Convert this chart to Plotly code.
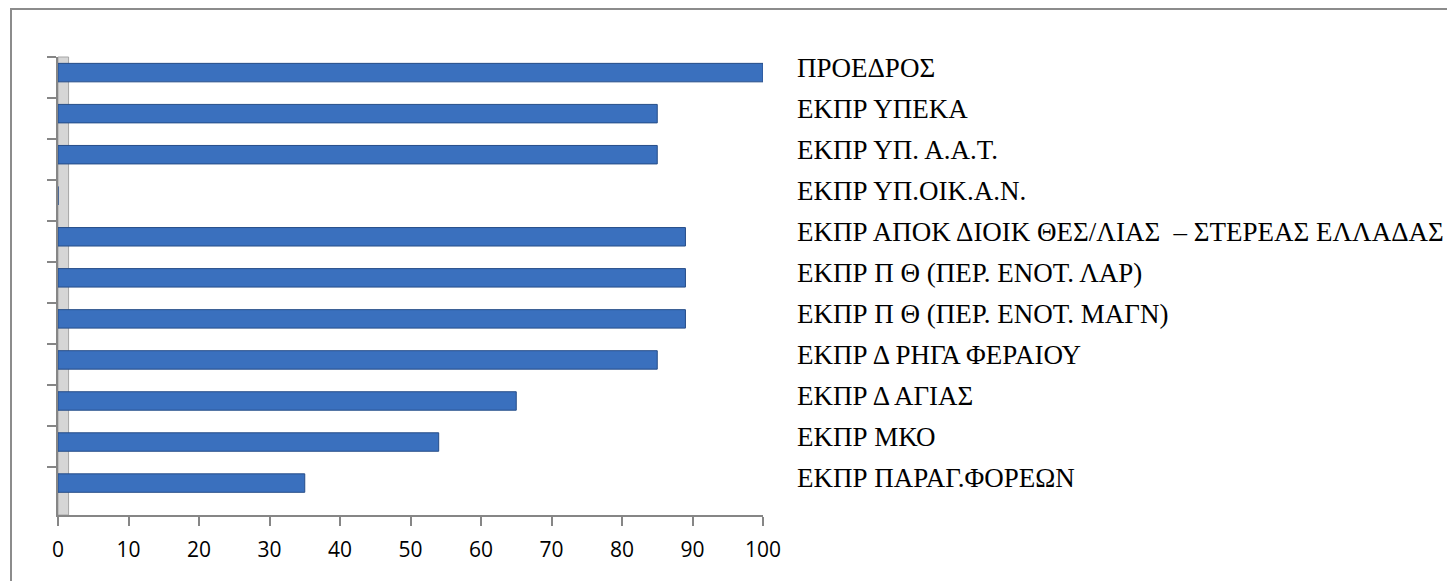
import plotly.graph_objects as go

categories = [
    "ΠΡΟΕΔΡΟΣ",
    "ΕΚΠΡ ΥΠΕΚΑ",
    "ΕΚΠΡ ΥΠ. Α.Α.Τ.",
    "ΕΚΠΡ ΥΠ.ΟΙΚ.Α.Ν.",
    "ΕΚΠΡ ΑΠΟΚ ΔΙΟΙΚ ΘΕΣ/ΛΙΑΣ  – ΣΤΕΡΕΑΣ ΕΛΛΑΔΑΣ",
    "ΕΚΠΡ Π Θ (ΠΕΡ. ΕΝΟΤ. ΛΑΡ)",
    "ΕΚΠΡ Π Θ (ΠΕΡ. ΕΝΟΤ. ΜΑΓΝ)",
    "ΕΚΠΡ Δ ΡΗΓΑ ΦΕΡΑΙΟΥ",
    "ΕΚΠΡ Δ ΑΓΙΑΣ",
    "ΕΚΠΡ ΜΚΟ",
    "ΕΚΠΡ ΠΑΡΑΓ.ΦΟΡΕΩΝ",
]
values = [100, 85, 85, 0, 89, 89, 89, 85, 65, 54, 35]
x_ticks = [0, 10, 20, 30, 40, 50, 60, 70, 80, 90, 100]

W, H = 1455, 581
OFF = 7  # page offset compensation
ML, MT = 57 - OFF, 56 - OFF
plot_w, plot_h = 705, 458
MR = W - ML - plot_w
MB = H - MT - plot_h

bar_w = 0.45
fig = go.Figure()
fig.add_trace(go.Bar(
    x=values, y=categories, orientation="h",
    width=bar_w, offset=-bar_w / 2 - 0.12,
    marker=dict(color="#3A70BE", line=dict(color="#264D88", width=1)),
    hoverinfo="x+y", showlegend=False,
))

# right-side category labels
for c in categories:
    fig.add_annotation(
        x=1 + 32 / plot_w, y=c, xref="paper", yref="y",
        text=c, showarrow=False, xanchor="left", yanchor="middle", yshift=10,
        font=dict(family="Liberation Serif", size=27, color="#000000"),
    )

shapes = [
    # 3D back wall
    dict(type="rect", xref="x", yref="paper", x0=0, x1=1.5, y0=0, y1=1,
         fillcolor="#D6D6D6", line=dict(color="#A6A6A6", width=1), layer="below"),
    # chart border
    dict(type="rect", xref="paper", yref="paper",
         x0=(10 - 57) / plot_w, x1=(W + 40 - 57) / plot_w,
         y0=-0.5, y1=(514 - 8) / plot_h,
         line=dict(color="#8C8C8C", width=2), fillcolor="rgba(0,0,0,0)", layer="below"),
]

fig.update_layout(
    width=W, height=H,
    margin=dict(l=ML, r=MR, t=MT, b=MB, autoexpand=False),
    paper_bgcolor="white", plot_bgcolor="white",
    bargap=0.55,
    shapes=shapes,
    xaxis=dict(
        range=[0, 100], tickvals=x_ticks, ticktext=[str(v) for v in x_ticks],
        showgrid=False, zeroline=False, showline=True, linecolor="#868686", linewidth=2,
        ticks="outside", ticklen=9, tickwidth=2, tickcolor="#868686",
        tickfont=dict(family="Open Sans", size=21, color="#000000"),
        ticklabelstandoff=6,
    ),
    yaxis=dict(
        categoryorder="array", categoryarray=categories, autorange="reversed",
        showticklabels=False, showgrid=False, zeroline=False,
        showline=True, linecolor="#868686", linewidth=2,
        ticks="outside", tickson="boundaries", ticklen=9, tickwidth=2, tickcolor="#868686",
    ),
)

fig.write_html("out.html")
